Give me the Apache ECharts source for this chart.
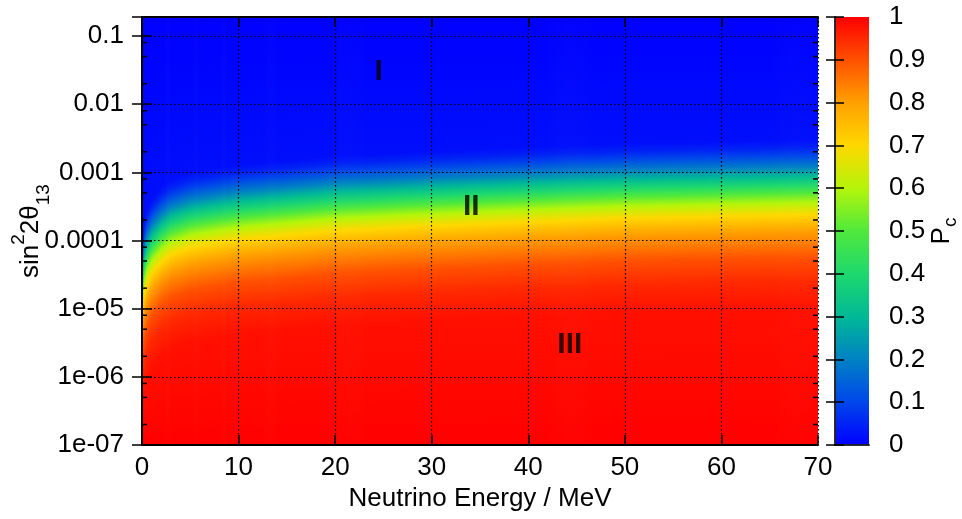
<!DOCTYPE html>
<html><head><meta charset="utf-8">
<script src="https://cdn.jsdelivr.net/npm/echarts/dist/echarts.min.js"></script>
<style>html,body{margin:0;padding:0;background:#fff}#c{width:962px;height:519px}</style>
</head><body><div id="c"></div>
<script>
// ---- data ----
// energies (MeV) at which the P_c = 0.5 contour was read
const energyMeV = [0, 0.25, 0.5, 1, 2, 3, 5, 7.5, 10, 15, 20, 30, 40, 50, 60, 70];
// sin^2 2theta13 where P_c = 0.5 at each energy
const halfSin2 = [1.6e-5, 3.4e-5, 4.7e-5, 6.8e-5, 1.0e-4, 1.3e-4, 1.65e-4, 1.9e-4, 2.15e-4, 2.5e-4, 2.9e-4, 3.4e-4, 3.9e-4, 4.4e-4, 4.7e-4, 5.0e-4];
// P_c levels of the transition band and their offset (decades) from the P_c = 0.5 contour
const pcLevels = [0.02, 0.05, 0.1, 0.2, 0.3, 0.4, 0.5, 0.6, 0.7, 0.8, 0.9, 0.95, 0.98];
const levelOffsetDecades = [0.78, 0.66, 0.55, 0.38, 0.25, 0.12, 0, -0.14, -0.32, -0.56, -0.95, -1.3, -1.7];
// tick values / labels
const energyTicks = [0, 10, 20, 30, 40, 50, 60, 70];
const sin2TickLabels = ['1e-07', '1e-06', '1e-05', '0.0001', '0.001', '0.01', '0.1'];
const sin2MinorTicks = [2e-7, 5e-7, 8e-7, 2e-6, 5e-6, 8e-6, 2e-5, 5e-5, 8e-5, 2e-4, 5e-4, 8e-4, 2e-3, 5e-3, 8e-3, 2e-2, 5e-2, 8e-2];
const pcTicks = [0, 0.1, 0.2, 0.3, 0.4, 0.5, 0.6, 0.7, 0.8, 0.9, 1];
// colour palette (P_c -> colour)
const paletteStops = [0, 0.1, 0.2, 0.3, 0.4, 0.5, 0.6, 0.7, 0.8, 0.9, 1];
const paletteColors = ['#0000ff', '#0046eb', '#0082c3', '#00b996', '#1ed86e', '#50e93c', '#b4f50a', '#ffd700', '#ffa000', '#ff5000', '#ff0000'];
// region annotations
const regionNames = ['I', 'II', 'III'];
const regionEnergy = [24.5, 34.1, 44.3];
const regionSin2 = [0.03, 3.1e-4, 3.0e-6];

// ---- helpers ----
function hexToRgb(h){return [parseInt(h.slice(1,3),16),parseInt(h.slice(3,5),16),parseInt(h.slice(5,7),16)];}
const paletteRgb = paletteColors.map(hexToRgb);
function paletteAt(p){
  p = Math.max(0, Math.min(1, p));
  let j = 0;
  while (j < paletteStops.length - 2 && p > paletteStops[j+1]) j++;
  const t = (p - paletteStops[j]) / (paletteStops[j+1] - paletteStops[j]);
  const a = paletteRgb[j], b = paletteRgb[j+1];
  return 'rgb(' + a.map((v,k)=>Math.round(v + (b[k]-v)*t)).join(',') + ')';
}
const levelColors = pcLevels.map(paletteAt);
const FONT = "'Liberation Sans', Arial, Helvetica, sans-serif";
const FS = 26;
const FSS = 19;

function sin2Label(v){
  const e = Math.log10(v);
  const r = Math.round(e);
  if (Math.abs(e - r) > 1e-6) return '';
  return sin2TickLabels[r + 7] || '';
}

const chart = echarts.init(document.getElementById('c'), null, {renderer: 'canvas'});

const gridLine = {show: true, lineStyle: {color: '#000', width: 1.2, type: [1.5, 2.5]}};
const axisLineStyle = {show: true, lineStyle: {color: '#000', width: 2}};
const majorTick = {show: true, inside: true, length: 10, lineStyle: {color: '#000', width: 1.5}};

const option = {
  animation: false,
  backgroundColor: '#fff',
  textStyle: {fontFamily: FONT},
  grid: [
    {left: 142, right: 144, top: 17, bottom: 74, outerBoundsMode: 'none', containLabel: false},
    {left: 835, right: 93, top: 17, bottom: 74, outerBoundsMode: 'none', containLabel: false}
  ],
  xAxis: [
    {gridIndex: 0, type: 'value', min: 0, max: 70, interval: 10, position: 'bottom', z: 5,
     axisLine: axisLineStyle, axisTick: majorTick,
     axisLabel: {color: '#000', fontSize: FS, fontFamily: FONT, margin: 10,
       formatter: v => { const i = energyTicks.indexOf(v); return i < 0 ? '' : String(energyTicks[i]); }},
     splitLine: gridLine,
     name: 'Neutrino Energy / MeV', nameLocation: 'middle', nameGap: 35,
     nameTextStyle: {color: '#000', fontSize: FS, fontFamily: FONT}},
    {gridIndex: 0, type: 'value', min: 0, max: 70, interval: 10, position: 'top', z: 5,
     axisLine: axisLineStyle, axisTick: majorTick,
     axisLabel: {show: false}, splitLine: {show: false}},
    {gridIndex: 1, type: 'value', min: 0, max: 1, position: 'bottom', z: 5,
     axisLine: {show: true, lineStyle: {color: '#222', width: 1.5}}, axisTick: {show: false}, axisLabel: {show: false}, splitLine: {show: false}},
    {gridIndex: 1, type: 'value', min: 0, max: 1, position: 'top', z: 5,
     axisLine: {show: true, lineStyle: {color: '#222', width: 1.5}}, axisTick: {show: false}, axisLabel: {show: false}, splitLine: {show: false}}
  ],
  yAxis: [
    {gridIndex: 0, type: 'log', logBase: 10, min: 1e-7, max: 0.19, position: 'left', z: 5,
     axisLine: axisLineStyle, axisTick: majorTick,
     axisLabel: {color: '#000', fontSize: FS, fontFamily: FONT, margin: 18, formatter: sin2Label, showMaxLabel: false},
     splitLine: gridLine,
     name: '{m|sin}{sup|2}{m|2θ}{sub|13}', nameLocation: 'middle', nameGap: 89, nameRotate: 90, nameMoveOverlap: false,
     nameTextStyle: {color: '#000', fontSize: FS, fontFamily: FONT, lineHeight: 44,
       rich: {m: {fontSize: FS, fontFamily: FONT, color: '#000', verticalAlign: 'middle'},
              sup: {fontSize: FSS, fontFamily: FONT, color: '#000', verticalAlign: 'top', lineHeight: 44},
              sub: {fontSize: FSS, fontFamily: FONT, color: '#000', verticalAlign: 'bottom', lineHeight: 44}}}},
    {gridIndex: 0, type: 'log', logBase: 10, min: 1e-7, max: 0.19, position: 'right', z: 5,
     axisLine: axisLineStyle, axisTick: majorTick,
     axisLabel: {show: false}, splitLine: {show: false}},
    {gridIndex: 1, type: 'value', min: 0, max: 1, interval: 0.1, position: 'right', z: 5,
     axisLine: {show: true, lineStyle: {color: '#222', width: 1.5}},
     axisTick: {show: true, inside: true, length: 9, lineStyle: {color: '#000', width: 1.5}},
     axisLabel: {color: '#000', fontSize: FS, fontFamily: FONT, margin: 20,
       formatter: v => { const i = pcTicks.findIndex(t => Math.abs(t - v) < 1e-9); return i < 0 ? '' : String(pcTicks[i]); }},
     splitLine: {show: false},
     name: '{m|P}{sub|c}', nameLocation: 'middle', nameGap: 55, nameRotate: 90, nameMoveOverlap: false,
     nameTextStyle: {color: '#000', fontSize: FS, fontFamily: FONT, lineHeight: 36,
       rich: {m: {fontSize: FS, fontFamily: FONT, color: '#000', verticalAlign: 'middle'},
              sub: {fontSize: FSS, fontFamily: FONT, color: '#000', verticalAlign: 'bottom', lineHeight: 36}}}},
    {gridIndex: 1, type: 'value', min: 0, max: 1, interval: 0.1, position: 'left', z: 5,
     axisLine: {show: true, lineStyle: {color: '#222', width: 1.5}},
     axisTick: {show: true, inside: true, length: 9, lineStyle: {color: '#000', width: 1.5}},
     axisLabel: {show: false}, splitLine: {show: false}}
  ],
  series: [
    {
      type: 'custom', xAxisIndex: 0, yAxisIndex: 0, z: 1, silent: true,
      data: energyMeV.slice(0, -1).map((e, i) => [i]),
      renderItem: function (params, api) {
        const i = api.value(0);
        const cs = params.coordSys;
        const xa = api.coord([energyMeV[i], 1e-3])[0];
        const xb = api.coord([energyMeV[i+1], 1e-3])[0];
        const ya = pcLevels.map((p, k) => api.coord([energyMeV[i], halfSin2[i] * Math.pow(10, levelOffsetDecades[k])])[1]);
        const yb = pcLevels.map((p, k) => api.coord([energyMeV[i+1], halfSin2[i+1] * Math.pow(10, levelOffsetDecades[k])])[1]);
        const n = Math.max(1, Math.ceil(xb - xa));
        const w = (xb - xa) / n;
        const right = cs.x + cs.width;
        const children = [];
        for (let s = 0; s < n; s++) {
          const t = (s + 0.5) / n;
          const stops = [{offset: 0, color: paletteAt(0)}];
          for (let k = 0; k < pcLevels.length; k++) {
            const y = ya[k] + (yb[k] - ya[k]) * t;
            const off = Math.max(0, Math.min(1, (y - cs.y) / cs.height));
            stops.push({offset: off, color: levelColors[k]});
          }
          stops.push({offset: 1, color: paletteAt(1)});
          const x0 = xa + s * w;
          const wid = Math.min(w + 0.8, right - x0);
          children.push({type: 'rect', shape: {x: x0, y: cs.y, width: wid, height: cs.height},
            style: {fill: new echarts.graphic.LinearGradient(0, 0, 0, 1, stops)}});
        }
        return {type: 'group', children: children};
      }
    },
    {
      type: 'custom', xAxisIndex: 0, yAxisIndex: 0, z: 6, silent: true,
      data: sin2MinorTicks.map(v => [0, v]),
      renderItem: function (params, api) {
        const cs = params.coordSys;
        const y = api.coord([0, api.value(1)])[1];
        const st = {stroke: '#000', lineWidth: 1.5};
        return {type: 'group', children: [
          {type: 'line', shape: {x1: cs.x, y1: y, x2: cs.x + 5, y2: y}, style: st},
          {type: 'line', shape: {x1: cs.x + cs.width - 5, y1: y, x2: cs.x + cs.width, y2: y}, style: st}
        ]};
      }
    },
    {
      type: 'custom', xAxisIndex: 2, yAxisIndex: 2, z: 1, silent: true,
      data: [[0, 0]],
      renderItem: function (params, api) {
        const stops = paletteStops.map((p, k) => ({offset: 1 - p, color: paletteColors[k]})).reverse();
        const p0 = api.coord([0, 1]);
        const p1 = api.coord([1, 0]);
        return {type: 'rect', shape: {x: p0[0], y: p0[1], width: p1[0] - p0[0], height: p1[1] - p0[1]},
          style: {fill: new echarts.graphic.LinearGradient(0, 0, 0, 1, stops)}};
      }
    },
    {
      type: 'scatter', xAxisIndex: 0, yAxisIndex: 0, z: 7, silent: true, symbolSize: 0,
      data: regionNames.map((n, i) => ({value: [regionEnergy[i], regionSin2[i]], name: n})),
      label: {show: true, position: 'inside', formatter: p => p.name, color: '#000',
        fontSize: 30, fontWeight: 'bold', fontFamily: FONT}
    }
  ]
};
chart.setOption(option);
</script>
</body></html>
